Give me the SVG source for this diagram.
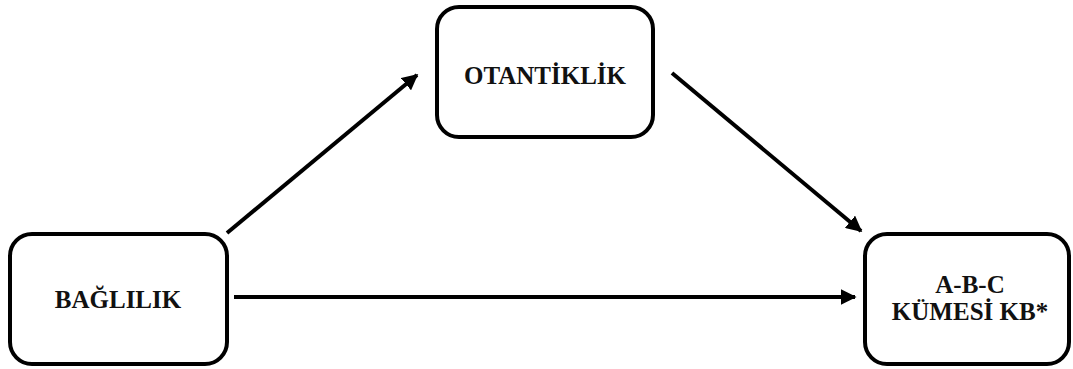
<svg xmlns="http://www.w3.org/2000/svg" width="1073" height="369" viewBox="0 0 1073 369">
<defs>
<style>
.box{fill:#fff;stroke:#000;stroke-width:4}
.lbl{font-family:'Liberation Serif','Times New Roman',serif;font-weight:700;font-size:25px;fill:#111;text-anchor:middle}
.conn{stroke:#000;stroke-width:4;fill:none}
</style>
<marker id="ah" viewBox="0 0 10 10" refX="9" refY="5" markerWidth="4" markerHeight="4" markerUnits="strokeWidth" orient="auto">
<path d="M0,0 L10,5 L0,10 z" fill="#000"/>
</marker>
</defs>
<rect width="1073" height="369" fill="#fff"/>
<g id="connectors">
<line class="conn" x1="227" y1="233" x2="417" y2="75" marker-end="url(#ah)"/>
<line class="conn" x1="672" y1="73" x2="861" y2="231" marker-end="url(#ah)"/>
<line class="conn" x1="234" y1="297" x2="855" y2="297" marker-end="url(#ah)"/>
</g>
<g id="node-baglilik">
<rect class="box" x="10" y="234" width="217" height="130" rx="22"/>
<text class="lbl" x="118" y="308">BAĞLILIK</text>
</g>
<g id="node-otantiklik">
<rect class="box" x="437" y="7" width="216" height="130" rx="22"/>
<text class="lbl" x="545" y="84">OTANTİKLİK</text>
</g>
<g id="node-abc">
<rect class="box" x="865" y="234" width="204" height="130" rx="22"/>
<text class="lbl" x="970" y="293">A-B-C</text>
<text class="lbl" x="970" y="320">KÜMESİ KB*</text>
</g>
</svg>
